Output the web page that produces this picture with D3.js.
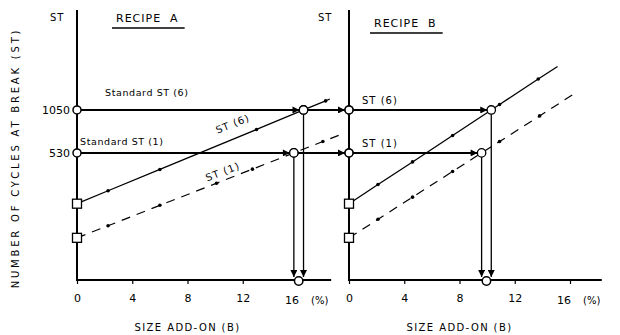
<!DOCTYPE html>
<html>
<head>
<meta charset="utf-8">
<script src="https://cdn.jsdelivr.net/npm/d3@7"></script>
<style>
  html, body { margin: 0; padding: 0; background: #fff; }
  svg text { font-family: "DejaVu Sans", sans-serif; fill: #000; }
</style>
</head>
<body>
<svg id="chart" width="620" height="335"></svg>
<script>
// Size add-on (%) tick labels and the two standard ST levels
const xTicks = [0, 4, 8, 12, 16];
const stLevels = [1050, 530];

// Recipe A: cycles at break vs size add-on, ST(6) and ST(1)
const st6A_x = [0, 2.25, 6.0, 13.0, 16.4, 18.0, 18.3];
const st6A_y = [236, 290, 407, 770, 1050, 1213, 1250];
const st1A_x = [0, 2.25, 6.0, 10.1, 12.7, 15.7, 17.8, 19.2];
const st1A_y = [137, 166, 230, 327, 409, 530, 635, 717];

// Recipe B
const st6B_x = [0, 2.1, 4.6, 7.5, 10.3, 10.9, 13.7, 15.1];
const st6B_y = [236, 320, 459, 700, 1050, 1146, 1718, 2100];
const st1B_x = [0, 2.1, 4.6, 7.5, 9.6, 10.9, 13.8, 16.2];
const st1B_y = [137, 184, 262, 394, 530, 635, 955, 1340];

// Add-on required to reach each standard: [ST(6), ST(1)]
const requiredA = [16.4, 15.7];
const requiredB = [10.3, 9.6];

const svg = d3.select("#chart");

const xA = d3.scaleLinear().domain([0, 16]).range([77, 298]);
const xB = d3.scaleLinear().domain([0, 16]).range([349, 570]);
const y = d3.scaleLog().domain([70, 5160]).range([280, 10]);

// arrowhead markers
const defs = svg.append("defs");
defs.append("marker")
  .attr("id", "arrow")
  .attr("viewBox", "0 0 10 10")
  .attr("refX", 10).attr("refY", 5)
  .attr("markerWidth", 8).attr("markerHeight", 7)
  .attr("markerUnits", "userSpaceOnUse")
  .attr("orient", "auto")
  .append("path").attr("d", "M0,0 L10,5 L0,10 z").attr("fill", "#000");

const zip = (xs, ys) => xs.map((v, i) => [v, ys[i]]);

function panel(x, xEnd, st6, st1, required, title, titleX, underlineY, stLabelX) {
  const g = svg.append("g");
  const x0 = x(0);

  // axes
  g.append("line").attr("x1", x0).attr("x2", x0).attr("y1", 10).attr("y2", 281)
    .attr("stroke", "#000").attr("stroke-width", 2);
  g.append("line").attr("x1", x0).attr("x2", x(xEnd)).attr("y1", 280).attr("y2", 280)
    .attr("stroke", "#000").attr("stroke-width", 2);

  const xAxis = d3.axisBottom(x).tickValues(xTicks).tickSize(4).tickPadding(10)
    .tickFormat(d => d === 16 ? "" : d);
  const ax = g.append("g").attr("transform", "translate(0,280)").call(xAxis);
  ax.select(".domain").remove();
  ax.selectAll("line").attr("stroke-width", 1.2);
  ax.selectAll("text").attr("font-size", 11).style("font-family", "DejaVu Sans, sans-serif");

  // "16 (%)" label
  g.append("text").attr("x", x(16) - 6).attr("y", 304).attr("text-anchor", "middle")
    .attr("font-size", 11).text("16");
  g.append("text").attr("x", x(16) + 13).attr("y", 304)
    .attr("font-size", 10).text("(%)");

  g.append("text").attr("x", x(8)).attr("y", 331).attr("text-anchor", "middle")
    .attr("font-size", 10).attr("letter-spacing", 1.4).text("SIZE ADD-ON (B)");

  // title
  g.append("text").attr("x", stLabelX).attr("y", 21).attr("font-size", 10)
    .attr("letter-spacing", 1).text("ST");
  const t = g.append("text").attr("x", titleX).attr("y", underlineY - 6).attr("font-size", 11)
    .attr("letter-spacing", 1).attr("xml:space", "preserve").style("white-space", "pre").text(title);
  const bb = t.node().getBBox();
  g.append("line").attr("x1", bb.x - 4).attr("x2", bb.x + bb.width + 6)
    .attr("y1", underlineY).attr("y2", underlineY).attr("stroke", "#000").attr("stroke-width", 1.3);

  const line = d3.line().x(d => x(d[0])).y(d => y(d[1]));

  // ST(6) solid, ST(1) dashed
  g.append("path").datum(st6).attr("d", line).attr("fill", "none")
    .attr("stroke", "#000").attr("stroke-width", 1.3);
  g.append("path").datum(st1).attr("d", line).attr("fill", "none")
    .attr("stroke", "#000").attr("stroke-width", 1.2).attr("stroke-dasharray", "9,7");

  // measured points
  [st6, st1].forEach(s => {
    g.selectAll(null).data(s.slice(1, -1).filter(d => !stLevels.includes(d[1])))
      .join("circle").attr("cx", d => x(d[0])).attr("cy", d => y(d[1])).attr("r", 1.8)
      .attr("fill", "#000");
  });

  // intercepts at 0 % add-on
  g.selectAll(null).data([st6[0], st1[0]]).join("rect")
    .attr("x", d => x0 - 4.5).attr("y", d => y(d[1]) - 4.5)
    .attr("width", 9).attr("height", 9)
    .attr("fill", "#fff").attr("stroke", "#000").attr("stroke-width", 1.3);

  // standard levels -> required add-on
  stLevels.forEach((lv, i) => {
    const xr = x(required[i]);
    g.append("line").attr("x1", x0 + 4).attr("x2", xr - 4)
      .attr("y1", y(lv)).attr("y2", y(lv))
      .attr("stroke", "#000").attr("stroke-width", 2).attr("marker-end", "url(#arrow)");
    g.append("line").attr("x1", xr).attr("x2", xr)
      .attr("y1", y(lv) + 4).attr("y2", 277)
      .attr("stroke", "#000").attr("stroke-width", 1.3).attr("marker-end", "url(#arrow)");
    g.append("circle").attr("cx", xr).attr("cy", y(lv)).attr("r", 4.2)
      .attr("fill", "#fff").attr("stroke", "#000").attr("stroke-width", 1.3);
    g.append("circle").attr("cx", x0).attr("cy", y(lv)).attr("r", 4)
      .attr("fill", "#fff").attr("stroke", "#000").attr("stroke-width", 1.5);
  });
  g.append("circle").attr("cx", x(d3.mean(required))).attr("cy", 281).attr("r", 4.2)
    .attr("fill", "#fff").attr("stroke", "#000").attr("stroke-width", 1.5);

  return g;
}

const gA = panel(xA, 18.4, zip(st6A_x, st6A_y), zip(st1A_x, st1A_y), requiredA,
  "RECIPE  A", 116, 28, 50);
const gB = panel(xB, 18.3, zip(st6B_x, st6B_y), zip(st1B_x, st1B_y), requiredB,
  "RECIPE  B", 374, 33, 318);

// carry the standard levels from recipe A across to recipe B
stLevels.forEach((lv, i) => {
  svg.append("line").attr("x1", xA(requiredA[i]) + 4).attr("x2", xB(0) - 4)
    .attr("y1", y(lv)).attr("y2", y(lv))
    .attr("stroke", "#000").attr("stroke-width", 2).attr("marker-end", "url(#arrow)");
});
// redraw the circles on top
svg.selectAll(null).data(stLevels).join("circle")
  .attr("cx", xB(0)).attr("cy", d => y(d)).attr("r", 4)
  .attr("fill", "#fff").attr("stroke", "#000").attr("stroke-width", 1.5);
svg.selectAll(null).data(stLevels).join("circle")
  .attr("cx", (d, i) => xA(requiredA[i])).attr("cy", d => y(d)).attr("r", 4.2)
  .attr("fill", "#fff").attr("stroke", "#000").attr("stroke-width", 1.3);

// y tick labels
svg.selectAll(null).data(stLevels).join("text")
  .attr("x", xA(0) - 7).attr("y", d => y(d) + 4).attr("text-anchor", "end")
  .attr("font-size", 11).text(d => d);

// annotations, recipe A
svg.append("text").attr("x", 105).attr("y", 96).attr("font-size", 9.5)
  .attr("letter-spacing", 0.6).text("Standard ST (6)");
svg.append("text").attr("x", 80).attr("y", 145).attr("font-size", 9.5)
  .attr("letter-spacing", 0.6).text("Standard ST (1)");
svg.append("text").attr("transform", `translate(234,127) rotate(-22)`)
  .attr("text-anchor", "middle").attr("font-size", 10).attr("letter-spacing", 1).text("ST (6)");
svg.append("text").attr("transform", `translate(224,175) rotate(-21)`)
  .attr("text-anchor", "middle").attr("font-size", 10).attr("letter-spacing", 1).text("ST (1)");

// annotations, recipe B
svg.append("text").attr("x", 362).attr("y", 104).attr("font-size", 10)
  .attr("letter-spacing", 1).text("ST (6)");
svg.append("text").attr("x", 362).attr("y", 147).attr("font-size", 10)
  .attr("letter-spacing", 1).text("ST (1)");

// y-axis title
svg.append("text").attr("transform", "translate(19,158) rotate(-90)")
  .attr("text-anchor", "middle").attr("font-size", 10).attr("letter-spacing", 2.8)
  .text("NUMBER OF CYCLES AT BREAK (ST)");
</script>
</body>
</html>
